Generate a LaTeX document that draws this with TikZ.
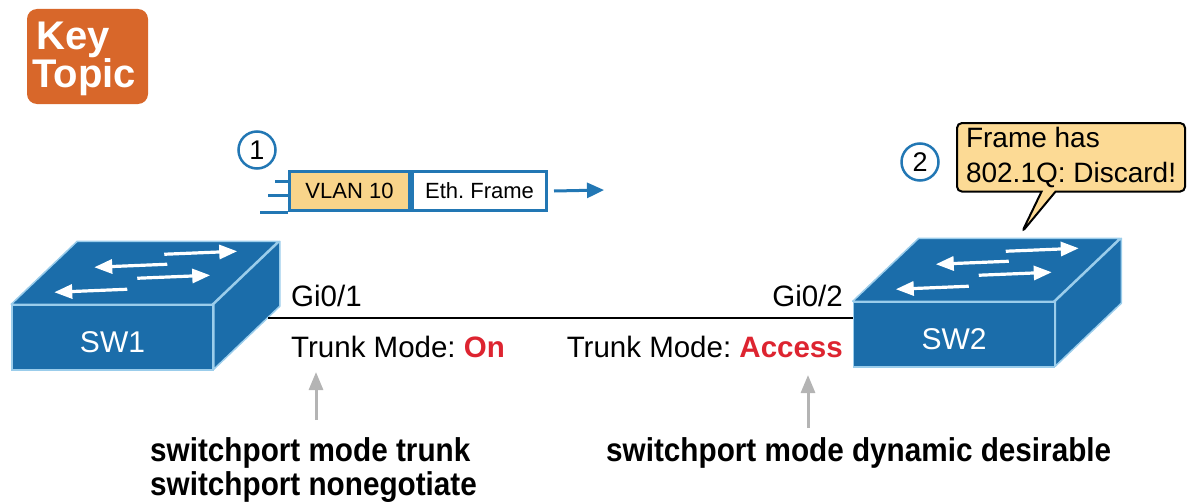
\documentclass[tikz,border=0pt]{standalone}
\usepackage{fontspec}
\setmainfont{Liberation Sans}
\newfontfamily\condfont[FakeStretch=0.9]{Liberation Sans}
\usetikzlibrary{arrows.meta,shapes.callouts}
\definecolor{swblue}{HTML}{1B6DAA}
\definecolor{swedge}{HTML}{9BCDEB}
\definecolor{ktorange}{HTML}{D8672A}
\definecolor{tagyellow}{HTML}{F8D48A}
\definecolor{noteyellow}{HTML}{FCDA95}
\definecolor{frameblue}{HTML}{2277B4}
\definecolor{modered}{HTML}{DD2430}
\definecolor{hintgray}{HTML}{B4B4B4}
\newcommand\pxfont[2]{\fontsize{#1}{#2}\selectfont}
\newcommand\modeval[1]{{\color{modered}\bfseries #1}}
\frenchspacing

\begin{document}
\begin{tikzpicture}[x=1pt,y=-1pt,
  swfront/.style={fill=swblue, draw=swedge, line width=1.5pt, minimum width=201pt,
    minimum height=65pt, inner sep=0pt, text=white, font=\pxfont{30}{36},
    text height=29.5pt, text depth=0pt},
  swface/.style={fill=swblue, draw=swedge, line width=1.5pt, line join=round},
  swarrow/.style={draw=white, line width=3.2pt, -{Triangle[length=18pt,width=14pt]}},
  portlabel/.style={inner sep=0pt, font=\pxfont{29.5}{35}},
  cmd/.style={inner sep=0pt, font=\condfont\bfseries\pxfont{33}{36}},
  hint/.style={draw=hintgray, line width=3pt, -{Triangle[length=18pt,width=14pt]}},
  stepnum/.style={circle, draw=frameblue, line width=2.5pt, minimum size=37pt,
    inner sep=0pt, font=\pxfont{27}{30}},
  tag/.style={draw=frameblue, line width=3pt, minimum height=39pt, inner sep=0pt,
    font=\pxfont{22}{26}},
  flow/.style={draw=frameblue, line width=3pt},
  cable/.style={draw=black, line width=2.8pt},
  badgetext/.style={anchor=base west, text=white, inner sep=0pt,
    font=\bfseries\pxfont{40}{40}},
]
\useasboundingbox (0,0) rectangle (1201,503);

% Key Topic badge
\node[fill=ktorange, rounded corners=10pt, minimum width=121pt, minimum height=95pt,
  inner sep=0pt] (kt) at (87.5,56.5) {};
\node[badgetext] (key) at (36,50) {Key};
\node[badgetext] (topic) at (32,88) {Topic};

% step 1: tagged frame leaving SW1
\node[stepnum] (n1) at (257,150) {1};
\node[tag, fill=tagyellow, minimum width=120pt, anchor=north west] (vlan) at (288,170) {VLAN 10};
\node[tag, fill=white, minimum width=134pt, anchor=west] (eth) at (vlan.east) {Eth. Frame};
\draw[flow] ([shift={(-13,11)}]vlan.north west) -- ([shift={(0,11)}]vlan.north west);
\draw[flow] ([shift={(-20,25)}]vlan.north west) -- ([shift={(0,25)}]vlan.north west);
\draw[flow] ([shift={(-28,0)}]vlan.south west) -- (vlan.south west);
\coordinate (go) at (604,190);
\draw[flow, -{Triangle[length=17pt,width=15pt]}] ([xshift=6pt]eth.east) -- (go);

% step 2: SW2 discards the tagged frame
\node[stepnum] (n2) at (920,162) {2};
\coordinate (tip) at (1022,232);
\node[rectangle callout, fill=noteyellow, draw=black, line width=2pt, rounded corners=5pt,
  align=left, inner xsep=9pt, inner ysep=4pt, font=\pxfont{28}{35}, anchor=north west,
  callout absolute pointer={(tip)}, callout pointer width=14pt]
  (note) at (956,122) {Frame has\\802.1Q: Discard!};

% SW1
\node[swfront] (sw1) at (112.5,337.5) {SW1};
\filldraw[swface] (sw1.north west) -- ++(66,-63) -- ++(201,0) -- ++(-66,63) -- cycle;
\filldraw[swface] (sw1.north east) -- ++(66,-63) -- ++(0,65) -- ++(-66,63) -- cycle;
\draw[swarrow] ([shift={(153,-50)}]sw1.north west) -- ([shift={(226,-53)}]sw1.north west);
\draw[swarrow] ([shift={(156,-40)}]sw1.north west) -- ([shift={(83,-37)}]sw1.north west);
\draw[swarrow] ([shift={(126,-26)}]sw1.north west) -- ([shift={(199,-29)}]sw1.north west);
\draw[swarrow] ([shift={(116,-15)}]sw1.north west) -- ([shift={(43,-12)}]sw1.north west);

% SW2
\node[swfront] (sw2) at (954,334.5) {SW2};
\filldraw[swface] (sw2.north west) -- ++(66,-63) -- ++(201,0) -- ++(-66,63) -- cycle;
\filldraw[swface] (sw2.north east) -- ++(66,-63) -- ++(0,65) -- ++(-66,63) -- cycle;
\draw[swarrow] ([shift={(153,-50)}]sw2.north west) -- ([shift={(226,-53)}]sw2.north west);
\draw[swarrow] ([shift={(156,-40)}]sw2.north west) -- ([shift={(83,-37)}]sw2.north west);
\draw[swarrow] ([shift={(126,-26)}]sw2.north west) -- ([shift={(199,-29)}]sw2.north west);
\draw[swarrow] ([shift={(116,-15)}]sw2.north west) -- ([shift={(43,-12)}]sw2.north west);

% link between the switches
\coordinate (p1) at (268,318);
\draw[cable] (p1) -- (p1 -| sw2.west);

% port names and trunking modes
\node[portlabel, anchor=base west] (g1) at (291,306) {Gi0/1};
\node[portlabel, anchor=base east] (g2) at (843,306) {Gi0/2};
\node[portlabel, anchor=base west] (m1) at (291,357) {Trunk Mode: \modeval{On}};
\node[portlabel, anchor=base east] (m2) at (843,357) {Trunk Mode: \modeval{Access}};

% configuration commands
\node[cmd, anchor=base west] (c1) at (150,461) {switchport mode trunk};
\node[cmd, anchor=base west] (c2) at (150,495) {switchport nonegotiate};
\node[cmd, anchor=base west] (c3) at (606,461) {switchport mode dynamic desirable};
\coordinate (h1) at (316,420);
\coordinate (h1t) at (316,372);
\coordinate (h2) at (808,428);
\coordinate (h2t) at (808,375);
\draw[hint] (h1) -- (h1t);
\draw[hint] (h2) -- (h2t);
\end{tikzpicture}
\end{document}
